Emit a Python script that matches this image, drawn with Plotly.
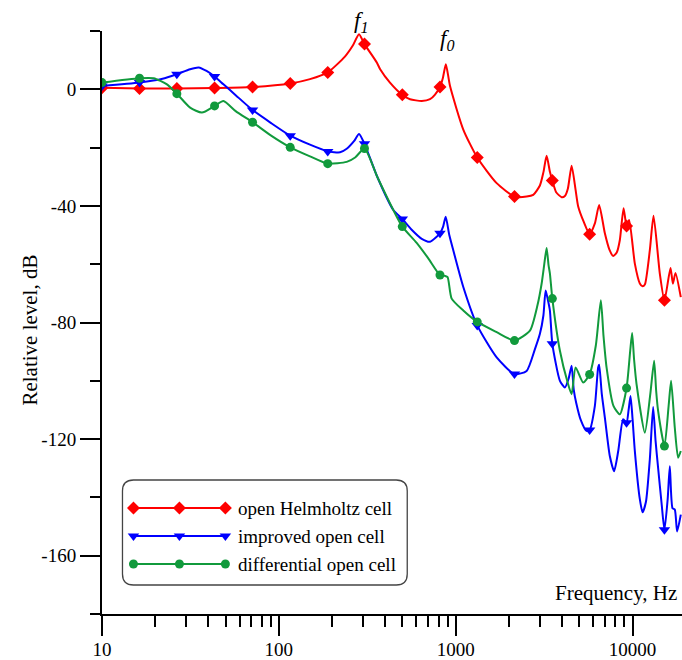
import plotly.graph_objects as go

# ---------------- data (Hz, dB) ----------------
marker_freqs = [10, 16.3, 26.5, 43.3, 71, 116, 189, 305, 499, 815, 1324, 2150, 3520, 5720, 9250, 15150]

red_marker_db = [0.5, 0.25, 0.25, 0.45, 0.8, 2.0, 5.8, 15.5, -1.9, 0.8, -23.4, -36.8, -31.3, -49.7, -46.9, -72.4]
blue_marker_db = [1.1, 2.3, 5.2, 4.4, -7.1, -15.9, -21.3, -18.7, -44.5, -49.4, -81.0, -97.7, -87.3, -116.9, -114.4, -151.1]
green_marker_db = [2.3, 3.8, -1.5, -5.7, -11.3, -19.9, -25.5, -20.3, -47.1, -63.7, -79.8, -86.2, -71.8, -97.8, -102.5, -122.4]

red_f = [10, 16.3, 26.5, 43.3, 71, 116, 150, 189, 237, 262, 284, 305, 358, 374, 425, 499, 552, 643, 716,
         764, 815, 847, 880, 929, 1104, 1324, 1705, 2150, 2518, 2744, 2994, 3133, 3267, 3410, 3520, 3700,
         3972, 4145, 4311, 4524, 4764, 4928, 5300, 5720, 6124, 6475, 6974, 7400, 7770, 8153, 8477, 8898,
         9250, 9568, 10304, 10996, 11392, 11738, 12525, 13143, 14264, 15150, 16395, 16913, 17495, 18746]
red_db = [0.5, 0.25, 0.25, 0.45, 0.8, 2.0, 3.5, 5.8, 11.3, 15.0, 18.9, 15.5, 9.2, 6.9, 2.3, -1.9, -3.4, -4.0, -3.4,
          -1.8, 0.8, 4.0, 8.6, 1.1, -13.8, -23.4, -32.2, -36.8, -36.8, -36.2, -33.0, -28.5, -22.8, -28.3, -31.3, -35.3,
          -37.0, -36.6, -34.0, -26.2, -34.5, -40.2, -45.5, -49.7, -46.0, -39.7, -49.4, -55.0, -57.2, -55.9, -51.7, -40.8,
          -46.9, -44.8, -59.8, -66.6, -67.6, -67.0, -55.2, -43.4, -63.2, -72.4, -61.3, -66.7, -63.0, -71.3]

blue_f = [10, 16.3, 22, 26.5, 31.5, 35.2, 39, 43.3, 48.6, 57, 71, 90, 116, 150, 189, 222, 242, 266, 284, 305,
          360, 444, 499, 560, 643, 716, 815, 850, 878, 920, 969, 1104, 1324, 1705, 2150, 2518, 2800, 2994, 3133,
          3225, 3320, 3410, 3520, 3885, 4145, 4350, 4524, 4650, 4800, 5100, 5496, 5720, 6124, 6391, 6475, 6700,
          6974, 7443, 7870, 8300, 8851, 9250, 9500, 9743, 10000, 10304, 10996, 11392, 11900, 12525, 13076, 13500,
          13951, 14600, 15150, 15800, 16245, 16827, 17338, 17865, 18746]
blue_db = [1.1, 2.3, 3.6, 5.2, 6.9, 7.5, 6.3, 4.4, 1.7, -2.0, -7.1, -11.5, -15.9, -19.0, -21.3, -21.6, -20.4, -17.8, -15.3, -18.7,
           -30.0, -41.4, -44.5, -48.0, -51.3, -52.3, -49.4, -47.0, -43.7, -50.0, -55.2, -67.8, -81.0, -92.0, -97.7, -96.6, -89.3, -83.9, -77.6,
           -69.0, -72.2, -75.9, -87.3, -100.0, -102.3, -99.3, -94.8, -103.0, -107.5, -113.5, -117.2, -116.9, -108.6, -95.4, -94.5, -104.5,
           -112.6, -125.9, -131.0, -124.1, -113.2, -114.4, -110.0, -105.2, -113.0, -124.1, -140.6, -145.1, -141.6, -126.9, -109.0, -120.7,
           -129.9, -142.1, -151.1, -140.6, -129.3, -143.7, -144.2, -151.7, -145.9]

green_f = [10, 16.3, 19.6, 23.3, 26.5, 31.5, 36.7, 43.3, 48.6, 57, 71, 90, 116, 150, 189, 242, 270, 305, 360, 444,
           499, 600, 700, 815, 870, 900, 949, 1104, 1324, 1705, 2150, 2629, 2900, 3061, 3180, 3267, 3350, 3410, 3520,
           3885, 4300, 4524, 4764, 5259, 5720, 6200, 6620, 6850, 7130, 7800, 8477, 9250, 9700, 9948, 10200, 10535,
           11738, 12600, 13247, 13600, 13951, 15150, 16000, 16524, 17338, 18098, 18746]
green_db = [2.3, 3.8, 3.8, 1.7, -1.5, -6.3, -8.0, -5.7, -4.0, -7.5, -11.3, -15.8, -19.9, -23.0, -25.5, -24.9, -23.4, -20.3, -30.0, -41.4,
            -47.1, -52.6, -58.0, -63.7, -64.0, -64.4, -71.8, -75.9, -79.8, -83.3, -86.2, -82.8, -74.1, -66.7, -59.3, -54.4, -60.3, -63.2, -71.8,
            -89.7, -100.7, -104.6, -95.4, -100.6, -97.8, -87.9, -72.4, -84.5, -95.4, -108.6, -111.5, -102.5, -89.7, -83.6, -92.6, -101.1,
            -117.8, -104.6, -93.1, -103.4, -110.3, -122.4, -108.6, -100.0, -116.1, -126.4, -124.1]

series_names = ["open Helmholtz cell", "improved open cell", "differential open cell"]
x_tick_vals = [10, 100, 1000, 10000]
x_tick_text = ["10", "100", "1000", "10000"]
x_minor_vals = [20, 30, 40, 50, 60, 70, 80, 90, 200, 300, 400, 500, 600, 700, 800, 900,
                2000, 3000, 4000, 5000, 6000, 7000, 8000, 9000, 20000]
y_tick_vals = [0, -40, -80, -120, -160]
y_minor_vals = [20, -20, -60, -100, -140, -180]

# ---------------- style ----------------
RED, BLUE, GREEN = "#ff0000", "#0000ff", "#119a3c"
FONT = "Liberation Serif"
styles = [
    (RED, "diamond", 10),
    (BLUE, "triangle-down", 10),
    (GREEN, "circle", 9),
]
lines = [(red_f, red_db, red_marker_db), (blue_f, blue_db, blue_marker_db), (green_f, green_db, green_marker_db)]

fig = go.Figure()
for (lf, ld, md), (col, sym, sz), name in zip(lines, styles, series_names):
    fig.add_trace(go.Scatter(x=lf, y=ld, mode="lines", name=name, showlegend=False,
                             line=dict(color=col, width=2, shape="spline", smoothing=0.6)))
    fig.add_trace(go.Scatter(x=marker_freqs, y=md, mode="markers", name=name, showlegend=False,
                             marker=dict(color=col, symbol=sym, size=sz, line=dict(width=0))))

# ----- manual legend in a pixel-like overlay coordinate system -----
L, R, T, B = 101.5, 682, 31, 614
PW, PH = R - L, B - T
leg_y = [508, 536, 564]
for (col, sym, sz), name, yy in zip(styles, series_names, leg_y):
    fig.add_trace(go.Scatter(x=[133, 179, 225], y=[yy, yy, yy], xaxis="x2", yaxis="y2",
                             mode="lines+markers", showlegend=False, hoverinfo="skip",
                             line=dict(color=col, width=2),
                             marker=dict(color=col, symbol=sym, size=sz, line=dict(width=0))))
    fig.add_annotation(x=236, y=yy, xref="x2", yref="y2", text=name, showarrow=False,
                       xanchor="left", yanchor="middle", font=dict(family=FONT, size=19, color="black"))

x0, x1, y0, y1, r = 122, 407, 480, 585, 11
box = (f"M {x0+r},{y0} L {x1-r},{y0} Q {x1},{y0} {x1},{y0+r} L {x1},{y1-r} Q {x1},{y1} {x1-r},{y1} "
       f"L {x0+r},{y1} Q {x0},{y1} {x0},{y1-r} L {x0},{y0+r} Q {x0},{y0} {x0+r},{y0} Z")
fig.add_shape(type="path", path=box, xref="x2", yref="y2", line=dict(color="#444444", width=1.3),
              fillcolor="rgba(0,0,0,0)", layer="above")

axis_common = dict(showgrid=False, zeroline=False, showline=True, linecolor="black", linewidth=2,
                   ticks="outside", ticklen=20, tickwidth=2, tickcolor="black", automargin=False,
                   tickfont=dict(family=FONT, size=19, color="black"))

fig.update_layout(
    width=682, height=660,
    margin=dict(l=L, r=0, t=T, b=660 - B),
    paper_bgcolor="white", plot_bgcolor="white",
    xaxis=dict(type="log", range=[1, 4.2797], tickmode="array", tickvals=x_tick_vals, ticktext=x_tick_text,
               ticklabelstandoff=-3,
               minor=dict(tickmode="array", tickvals=x_minor_vals, ticks="outside", ticklen=11, tickwidth=2,
                          tickcolor="black", showgrid=False),
               **axis_common),
    yaxis=dict(range=[-180, 20], tickmode="array", tickvals=y_tick_vals, ticktext=[str(v) for v in y_tick_vals],
               minor=dict(tickmode="array", tickvals=y_minor_vals, ticks="outside", ticklen=10, tickwidth=2,
                          tickcolor="black", showgrid=False),
               **axis_common),
    xaxis2=dict(range=[L, R], overlaying="x", visible=False, fixedrange=True),
    yaxis2=dict(range=[B, T], overlaying="y", visible=False, fixedrange=True),
    showlegend=False,
)

def px_to_paper(px, py):
    return (px - L) / PW, (B - py) / PH

ax, ay = px_to_paper(15, 330)
fig.add_annotation(x=ax, y=ay, xref="paper", yref="paper", text="Relative level, dB", showarrow=False,
                   textangle=-90, font=dict(family=FONT, size=21, color="black"))
fig.add_annotation(x=679, y=593, xref="x2", yref="y2", text="Frequency, Hz", showarrow=False,
                   xanchor="right", yanchor="middle", font=dict(family=FONT, size=21, color="black"))
fx, fy = px_to_paper(361, 6)
fig.add_annotation(x=fx, y=fy, xref="paper", yref="paper", text="<i>f<sub>1</sub></i>", showarrow=False,
                   font=dict(family=FONT, size=23, color="black"))
gx, gy = px_to_paper(447, 24)
fig.add_annotation(x=gx, y=gy, xref="paper", yref="paper", text="<i>f<sub>0</sub></i>", showarrow=False,
                   font=dict(family=FONT, size=23, color="black"))

fig.write_html("out.html", config={"displayModeBar": False},
               post_script="document.body.style.margin='0';document.body.style.overflow='hidden';")
